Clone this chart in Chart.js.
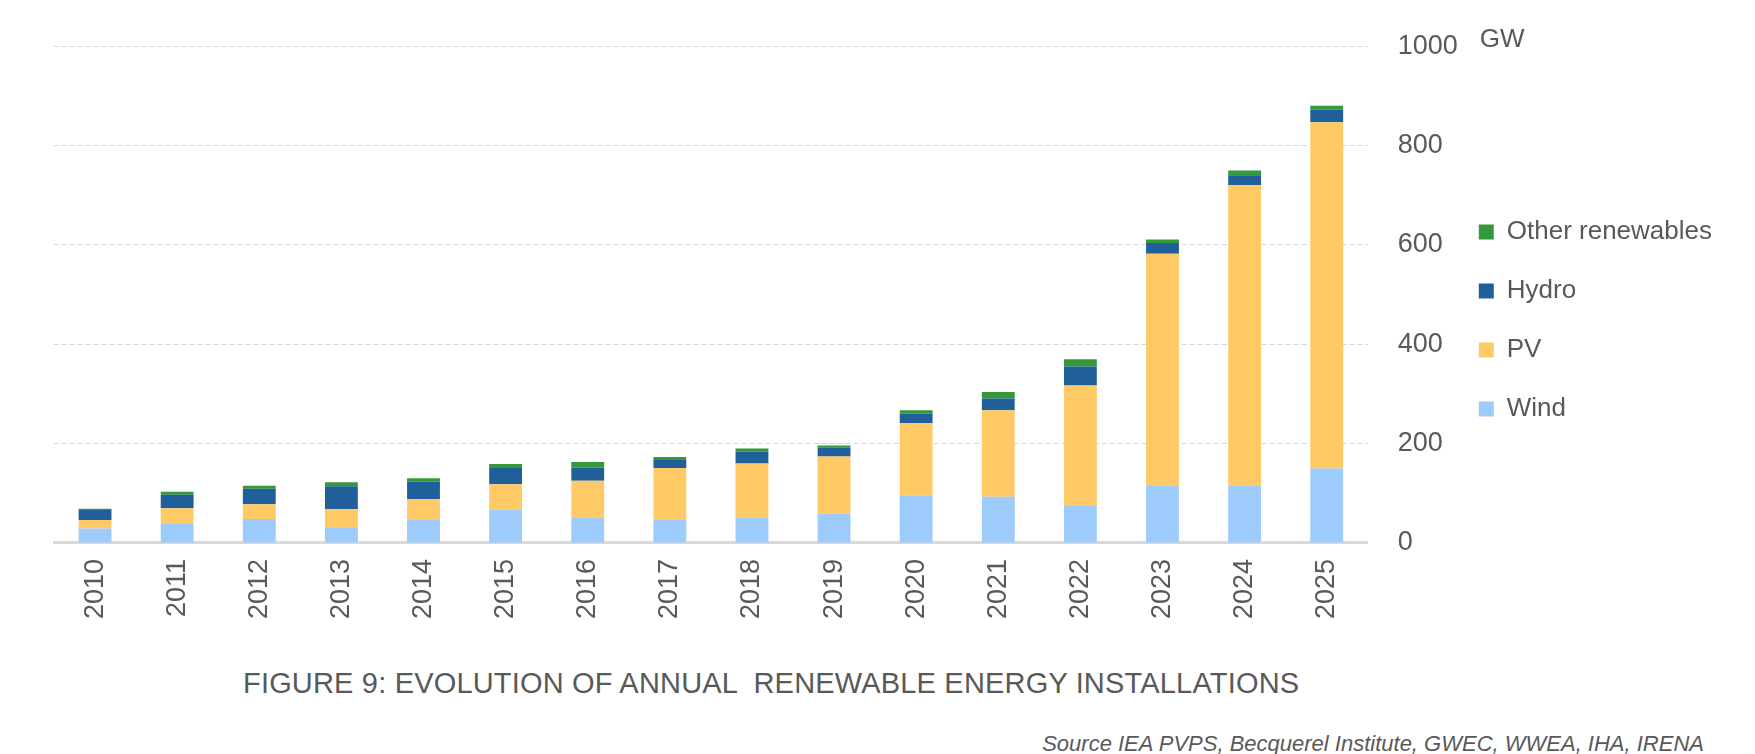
<!DOCTYPE html>
<html lang="en">
<head>
  <meta charset="UTF-8">
  <title>Evolution of annual renewable energy installations</title>
  <script src="https://cdn.jsdelivr.net/npm/chart.js"></script>
  <style>
    body {
      margin: 0;
      width: 1755px;
      height: 754px;
      overflow: hidden;
      background: #fff;
      font-family: 'Liberation Sans', Arial, sans-serif;
      position: relative;
    }
    #wrap {
      position: absolute;
      left: 0;
      top: 0;
      width: 1755px;
      height: 650px;
    }
    .caption {
      position: absolute;
      left: 243px;
      top: 669px;
      font-size: 29px;
      line-height: 1;
      letter-spacing: 0.18px;
      color: #595959;
      white-space: pre;
    }
    .source {
      position: absolute;
      right: 51px;
      top: 733px;
      font-size: 22px;
      line-height: 1;
      font-style: italic;
      color: #595959;
    }
  </style>
</head>
<body>
  <div id="wrap"><canvas id="chart" width="1755" height="650"></canvas></div>
  <div class="caption">FIGURE 9: EVOLUTION OF ANNUAL  RENEWABLE ENERGY INSTALLATIONS</div>
  <div class="source">Source IEA PVPS, Becquerel Institute, GWEC, WWEA, IHA, IRENA</div>

  <script>
    // data (GW per year)
    const years = ['2010', '2011', '2012', '2013', '2014', '2015', '2016', '2017',
                   '2018', '2019', '2020', '2021', '2022', '2023', '2024', '2025'];
    const wind  = [29, 38, 48, 30, 46, 67, 50, 46, 50, 59, 95, 93, 76, 116, 116, 150];
    const pv    = [17, 32, 30, 38, 42, 51, 75, 105, 110, 115, 146, 174, 241, 466, 604, 697];
    const hydro = [22, 27, 31, 46, 35, 33, 27, 16, 24, 18, 19, 24, 38, 22, 20, 25];
    const other = [1, 6, 6, 8, 7, 8, 11, 6, 6, 4, 7, 13, 15, 7, 10, 8];
    const yTicks = [0, 200, 400, 600, 800, 1000];

    const grey = '#595959';
    const font = "'Liberation Sans', Arial, sans-serif";

    // unit label next to the top tick
    const unitLabel = {
      id: 'unitLabel',
      afterDraw(chart) {
        const y = chart.scales.y;
        const ctx = chart.ctx;
        ctx.save();
        ctx.font = '26px ' + font;
        ctx.fillStyle = grey;
        ctx.textBaseline = 'middle';
        ctx.fillText('GW', chart.legend.left + 34, y.getPixelForValue(yTicks[yTicks.length - 1]) - 6);
        ctx.restore();
      }
    };

    new Chart(document.getElementById('chart'), {
      type: 'bar',
      data: {
        labels: years,
        datasets: [
          { label: 'Wind', data: wind, backgroundColor: '#9dcbfb' },
          { label: 'PV', data: pv, backgroundColor: '#ffca66' },
          { label: 'Hydro', data: hydro, backgroundColor: '#205f9a' },
          { label: 'Other renewables', data: other, backgroundColor: '#34993a' }
        ]
      },
      options: {
        responsive: false,
        animation: false,
        barPercentage: 0.4,
        categoryPercentage: 1,
        layout: { padding: { left: 54, right: 33, top: 42, bottom: 23 } },
        scales: {
          x: {
            stacked: true,
            grid: { display: false },
            border: { color: '#d9d9d9', width: 3 },
            ticks: {
              color: grey,
              font: { family: font, size: 27 },
              minRotation: 90,
              maxRotation: 90,
              padding: 8
            }
          },
          y: {
            stacked: true,
            position: 'right',
            min: 0,
            max: 1000,
            afterBuildTicks(scale) {
              scale.ticks = yTicks.map(v => ({ value: v }));
            },
            afterFit(scale) {
              scale.width = 78;
              // let the tick labels run past the narrowed axis box
              scale._computeLabelArea = () => undefined;
            },
            border: { display: false, dash: [5, 3] },
            grid: {
              color: '#cdd9e2',
              lineWidth: 1,
              drawTicks: false
            },
            ticks: {
              color: grey,
              font: { family: font, size: 27 },
              padding: 30,
              callback: v => String(v)
            }
          }
        },
        plugins: {
          legend: {
            position: 'right',
            reverse: true,
            align: 'start',
            title: { display: true, text: '', font: { size: 10 }, padding: { top: 66, bottom: 66 } },
            labels: {
              color: grey,
              font: { family: font, size: 26 },
              boxWidth: 15,
              boxHeight: 15,
              padding: 33
            }
          },
          tooltip: { enabled: false }
        }
      },
      plugins: [unitLabel]
    });
  </script>
</body>
</html>
